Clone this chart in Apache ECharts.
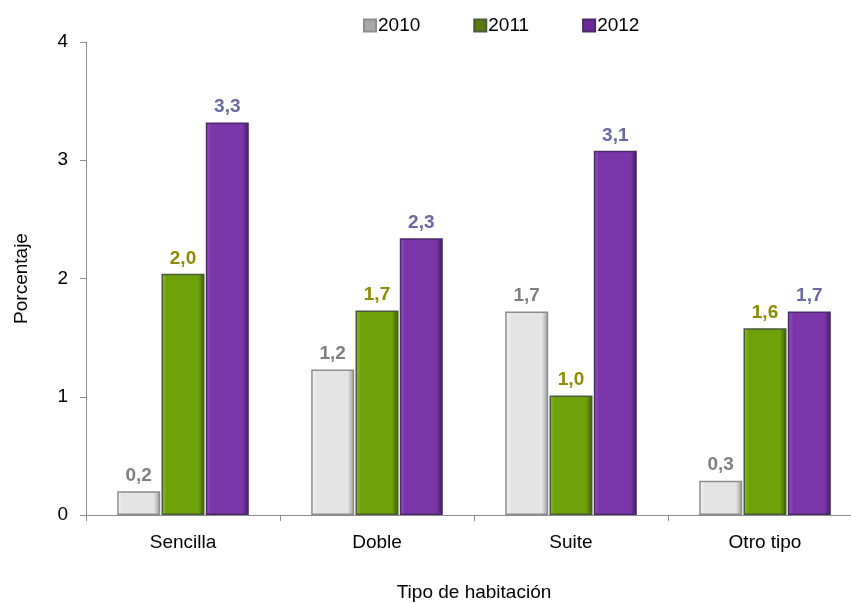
<!DOCTYPE html>
<html><head><meta charset="utf-8">
<script src="https://cdn.jsdelivr.net/npm/echarts@6/dist/echarts.min.js"></script>
<style>html,body{margin:0;padding:0;background:#fff}#c{width:851px;height:604px}</style>
</head><body><div id="c"></div>
<script>
const categories = ['Sencilla', 'Doble', 'Suite', 'Otro tipo'];
const years = ['2010', '2011', '2012'];
const v2010 = [0.20, 1.23, 1.72, 0.29];
const v2011 = [2.04, 1.73, 1.01, 1.58];
const v2012 = [3.32, 2.34, 3.08, 1.72];
const yTicks = [0, 1, 2, 3, 4];

const FONT = '"Liberation Sans", Arial, sans-serif';
function grad(light, base, dark) {
  return new echarts.graphic.LinearGradient(0, 0, 1, 0, [
    {offset: 0, color: light}, {offset: 0.12, color: base},
    {offset: 0.85, color: base}, {offset: 1, color: dark}
  ]);
}
const styles = [
  {fill: grad('#f8f8f8', '#e4e4e4', '#9a9a9a'), border: '#8c8c8c', label: '#808080', legend: '#a8a8a8'},
  {fill: grad('#8cc21a', '#6fa10a', '#3d5a05'), border: '#4a5a3a', label: '#8b8b00', legend: '#5a7a10'},
  {fill: grad('#9a58c8', '#7a36a8', '#3e1a5c'), border: '#4c2a6a', label: '#6a6aa0', legend: '#6a2a9a'}
];
const seriesData = [v2010, v2011, v2012];
const fmt = p => p.value.toFixed(1).replace('.', ',');

const chart = echarts.init(document.getElementById('c'), null, {renderer: 'canvas'});
chart.setOption({
  animation: false,
  textStyle: {fontFamily: FONT},
  legend: {
    top: 11, left: 358, itemWidth: 12, itemHeight: 12, itemGap: 53, icon: 'rect',
    textStyle: {fontSize: 19, color: '#000', fontFamily: FONT, padding: [0, 0, 0, -3]},
    data: years.map((y, i) => ({name: y, itemStyle: {color: styles[i].legend}}))
  },
  grid: {left: 86, width: 776, top: 42, bottom: 89, containLabel: false, outerBoundsMode: 'none'},
  xAxis: {
    type: 'category', data: categories,
    name: 'Tipo de habitación', nameLocation: 'middle', nameGap: 68,
    nameTextStyle: {fontSize: 19, color: '#000', fontFamily: FONT},
    axisLine: {lineStyle: {color: '#8c8c8c', width: 1}},
    axisTick: {show: true, length: 6, lineStyle: {color: '#8c8c8c'}},
    axisLabel: {fontSize: 19, color: '#000', margin: 18, fontFamily: FONT}
  },
  yAxis: {
    type: 'value', min: yTicks[0], max: yTicks[yTicks.length - 1], interval: 1,
    name: 'Porcentaje', nameLocation: 'middle', nameGap: 55, nameRotate: 90,
    nameTextStyle: {fontSize: 19, color: '#000', fontFamily: FONT},
    axisLine: {show: true, lineStyle: {color: '#8c8c8c', width: 1}},
    axisTick: {show: true, length: 6, lineStyle: {color: '#8c8c8c'}},
    splitLine: {show: false},
    axisLabel: {fontSize: 19, color: '#000', margin: 18, fontFamily: FONT}
  },
  series: years.map((y, i) => ({
    name: y, type: 'bar', data: seriesData[i],
    barWidth: 43, barGap: '3%',
    itemStyle: {color: styles[i].fill, borderColor: styles[i].border, borderWidth: 1.5},
    label: {show: true, position: 'top', distance: 6, formatter: fmt,
      fontSize: 19, fontWeight: 'bold', color: styles[i].label, fontFamily: FONT}
  }))
});
</script></body></html>
